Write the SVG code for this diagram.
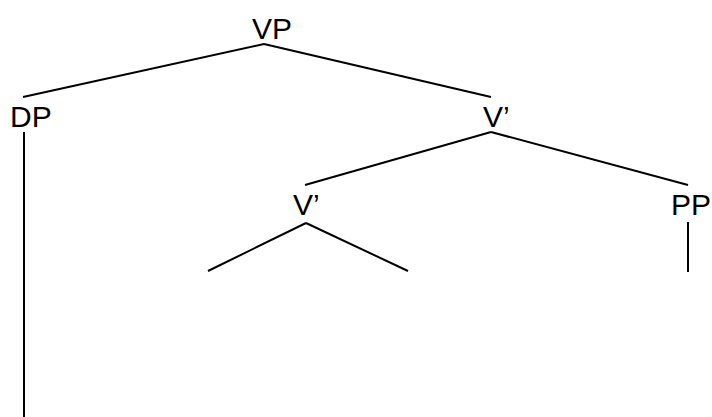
<svg xmlns="http://www.w3.org/2000/svg" width="712" height="417" viewBox="0 0 712 417">
<style>
text { font-family: "Liberation Sans", Arial, sans-serif; font-size: 30px; fill: #000; }
.edge { stroke: #000; stroke-width: 2; fill: none; }
</style>
<rect width="712" height="417" fill="#fff"/>
<g id="connectors">
<line class="edge" x1="264" y1="44" x2="23" y2="97"/>
<line class="edge" x1="264" y1="44" x2="491" y2="97"/>
<line class="edge" x1="24" y1="132" x2="24" y2="417"/>
<line class="edge" x1="491" y1="132" x2="305" y2="185"/>
<line class="edge" x1="491" y1="132" x2="688" y2="185"/>
<line class="edge" x1="306" y1="223" x2="208" y2="271"/>
<line class="edge" x1="306" y1="223" x2="408" y2="271"/>
<line class="edge" x1="688" y1="222" x2="688" y2="272"/>
</g>
<g id="node-VP"><text x="252" y="39">VP</text></g>
<g id="node-DP"><text x="10" y="127">DP</text></g>
<g id="node-Vbar1"><text x="483" y="127">V’</text></g>
<g id="node-Vbar2"><text x="293" y="215">V’</text></g>
<g id="node-PP"><text x="671" y="215">PP</text></g>
</svg>
